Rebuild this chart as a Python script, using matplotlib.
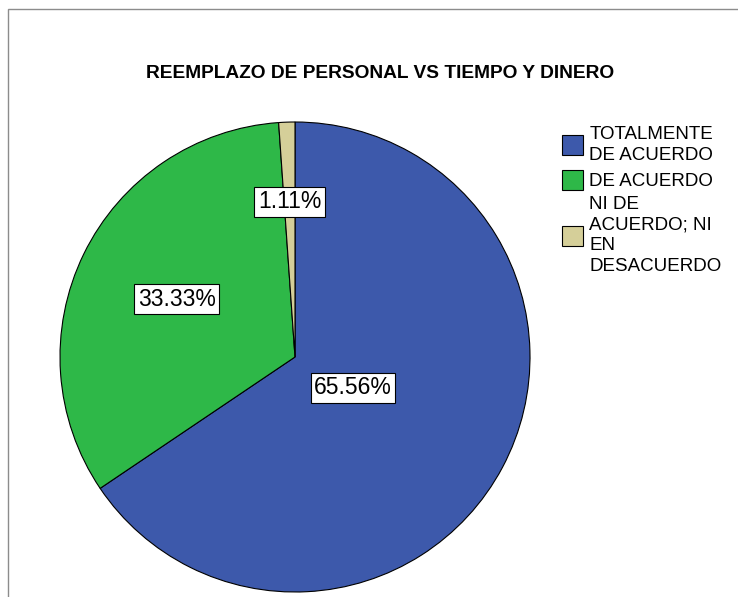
import numpy as np
import matplotlib.pyplot as plt
from matplotlib.patches import Rectangle

plt.rcParams['font.family'] = ['Liberation Sans', 'DejaVu Sans']

categories = ["TOTALMENTE\nDE ACUERDO", "DE ACUERDO", "NI DE\nACUERDO; NI\nEN\nDESACUERDO"]
percentages = [65.56, 33.33, 1.11]
colors = ["#3d59ab", "#2eb848", "#d5cf99"]
label_radius = [0.28, 0.56, 0.66]

W, H = 738, 597
fig = plt.figure(figsize=(W / 100, H / 100), dpi=100)

# frame around the chart
fig.patches.append(Rectangle((7.5 / W, -0.01), 1.0, 1 - 9 / H + 0.01, transform=fig.transFigure,
                             fill=False, edgecolor="#8c8c8c", linewidth=1.0))

fig.text(380 / W, 1 - 74 / H, "REEMPLAZO DE PERSONAL VS TIEMPO Y DINERO",
         ha="center", va="center", fontsize=13.8, fontweight="bold")

cx, cy, r = 295, 357, 235
ax = fig.add_axes([(cx - r) / W, (H - cy - r) / H, 2 * r / W, 2 * r / H])
wedges, _ = ax.pie(percentages, colors=colors, startangle=90, counterclock=False,
                   wedgeprops=dict(edgecolor="black", linewidth=0.8))
ax.set_xlim(-1, 1)
ax.set_ylim(-1, 1)

for w, pct, d in zip(wedges, percentages, label_radius):
    mid = np.deg2rad((w.theta1 + w.theta2) / 2)
    ax.text(d * np.cos(mid), d * np.sin(mid), f"{pct:.2f}%", ha="center", va="center",
            fontsize=16.5, bbox=dict(boxstyle="square,pad=0.15", facecolor="white",
                                     edgecolor="black", linewidth=0.8))

leg = fig.legend(wedges, categories, loc="upper left", bbox_to_anchor=(562 / W, 1 - 126 / H),
                 frameon=False, fontsize=13.5, handlelength=1.1, handleheight=1.3,
                 handletextpad=0.35, labelspacing=0.3, borderpad=0, borderaxespad=0)
for t in leg.get_texts():
    t.set_linespacing(1.3)

fig.savefig("out.png", dpi=100)
